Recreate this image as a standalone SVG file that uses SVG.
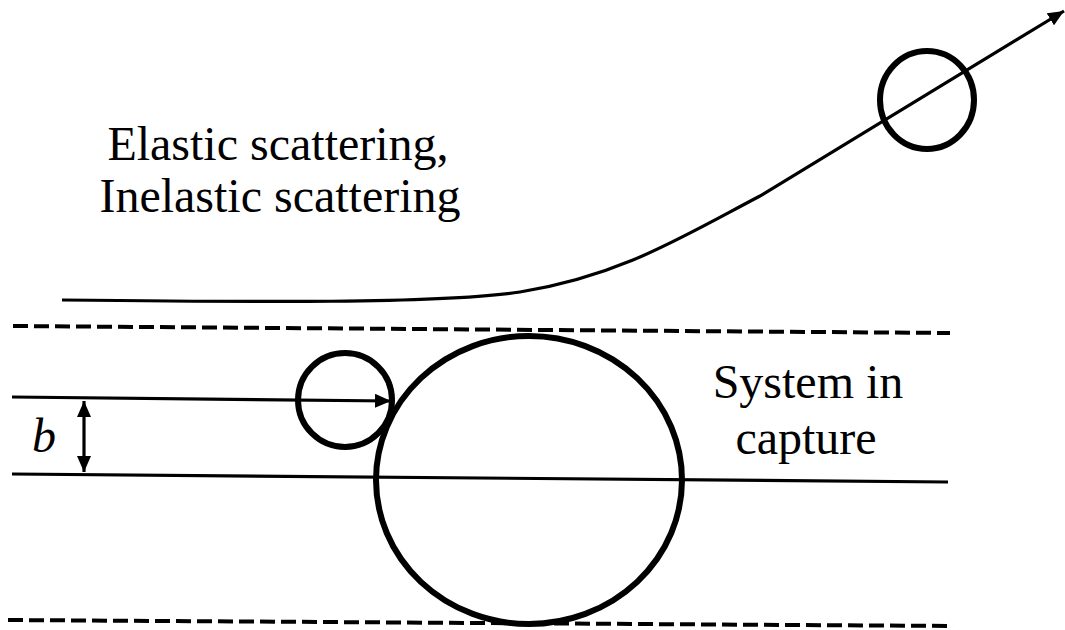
<svg xmlns="http://www.w3.org/2000/svg" width="1065" height="630" viewBox="0 0 1065 630">
<defs>
<style>
.ln{fill:none;stroke:#000;stroke-width:3.2}
.cir{fill:none;stroke:#000;stroke-width:6}
.dash{fill:none;stroke:#000;stroke-width:4;stroke-dasharray:15 6}
.t{font-family:"Liberation Serif","Times New Roman",serif;font-size:48px;fill:#000}
</style>
<marker id="ah" viewBox="0 0 10 10" refX="10" refY="5" markerWidth="5" markerHeight="4.4" markerUnits="strokeWidth" orient="auto-start-reverse" preserveAspectRatio="none">
<path d="M0,0 L10,5 L0,10 Z" fill="#000"/>
</marker>
</defs>
<g id="connectors">
<line class="dash" x1="13" y1="326" x2="950" y2="333"/>
<line class="dash" x1="8" y1="620" x2="953" y2="626"/>
<line class="ln" x1="12" y1="397" x2="391" y2="401" marker-end="url(#ah)"/>
<line class="ln" x1="12" y1="474" x2="948" y2="482"/>
<line class="ln" x1="84" y1="401" x2="84" y2="472" marker-start="url(#ah)" marker-end="url(#ah)"/>
<path class="ln" d="M62,300 C250,302 440,304 520,292 C620,276 680,238 760,196 L1064,11" marker-end="url(#ah)"/>
</g>
<g id="big-circle"><ellipse class="cir" cx="529" cy="480" rx="153" ry="144"/></g>
<g id="small-circle"><circle class="cir" cx="345" cy="400" r="47"/></g>
<g id="scatter-circle"><ellipse class="cir" cx="927" cy="100" rx="47" ry="49"/></g>
<g id="labels">
<text class="t" x="278" y="160" text-anchor="middle">Elastic scattering,</text>
<text class="t" x="280" y="212" text-anchor="middle">Inelastic scattering</text>
<text class="t" x="808" y="398" text-anchor="middle">System in</text>
<text class="t" x="806" y="454" text-anchor="middle">capture</text>
<text class="t" x="32" y="452" font-style="italic">b</text>
</g>
</svg>
